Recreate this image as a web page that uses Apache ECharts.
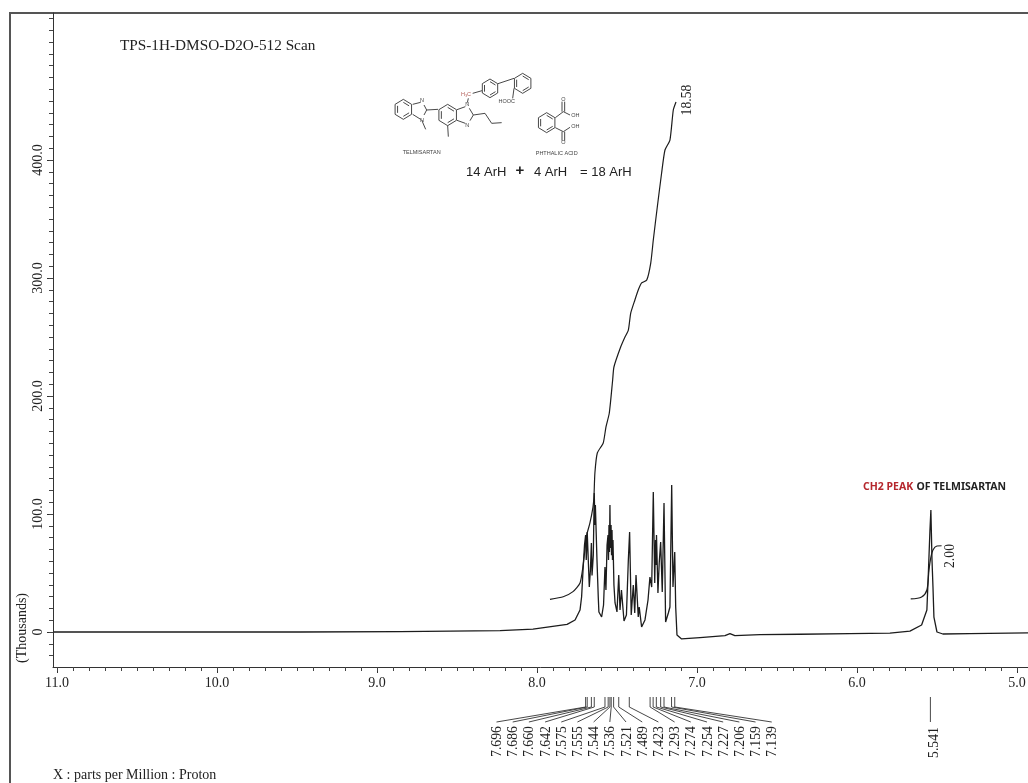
<!DOCTYPE html>
<html><head><meta charset="utf-8">
<style>html,body{margin:0;padding:0;background:#fff}#c{width:1028px;height:783px}</style>
<script src="https://cdn.jsdelivr.net/npm/echarts@6/dist/echarts.min.js"></script>
</head><body><div id="c"></div>
<script>
const spectrumPpm = [11.02,9.481,8.856,8.231,8.025,7.812,7.762,7.731,7.721,7.711,7.703,7.696,7.692,7.686,7.673,7.666,7.660,7.656,7.648,7.642,7.638,7.635,7.625,7.617,7.613,7.596,7.584,7.575,7.569,7.562,7.556,7.553,7.550,7.547,7.544,7.541,7.537,7.534,7.531,7.528,7.525,7.519,7.512,7.500,7.489,7.481,7.472,7.456,7.441,7.429,7.421,7.411,7.398,7.389,7.381,7.367,7.361,7.346,7.325,7.306,7.294,7.283,7.273,7.264,7.259,7.256,7.253,7.244,7.236,7.227,7.217,7.206,7.196,7.179,7.169,7.158,7.150,7.139,7.133,7.125,7.113,7.096,6.981,6.825,6.794,6.763,6.606,6.356,6.044,5.794,5.669,5.596,5.563,5.553,5.544,5.538,5.531,5.525,5.519,5.500,5.463,5.294,4.931];
const spectrumVal = [0,0,0.4,1.1,2.5,6.5,10.2,18.6,29.9,55.3,73.7,82.2,61,84.7,38.1,52.5,75.4,48,65,117.8,90.7,107.6,61,29.7,17,12.7,22.9,55,35.6,73.7,82.2,61,90.7,67.8,107.6,71.2,90.7,65,86.4,61,78,39.8,24.6,17,48.3,18.6,35.6,9.3,14.4,61,84.7,14.4,39.8,16.1,48.3,12.7,21.2,4.2,10.2,27.1,46.6,38.1,118.6,41.5,78,56.8,82.2,33,58.5,76.3,33.9,109.3,8.5,16.1,21.2,124.6,38.1,67.8,21.2,-2.5,-1.3,-5.9,-4.7,-3,-1.3,-3,-2.3,-1.9,-1.4,-1,0.8,5.9,18.6,52.5,85.6,103.4,61,38.4,12.7,0,-1.7,-1.3,-0.8];
const integralAPpm = [7.919,7.836,7.775,7.731,7.713,7.689,7.669,7.650,7.644,7.638,7.623,7.586,7.569,7.548,7.527,7.519,7.477,7.450,7.429,7.414,7.388,7.367,7.346,7.314,7.289,7.273,7.248,7.221,7.200,7.169,7.148,7.131];
const integralAVal = [27.7,29.9,34.2,41.5,55.1,82.2,92.4,105.9,114.4,134.7,151.7,160.2,173.7,185.6,213.6,224.6,241.5,250,255.9,270.3,281.4,289.8,295.8,298.3,312.7,332.2,360.2,389,408.5,416.9,442.4,449.2];
const integralBPpm = [5.664,5.596,5.563,5.550,5.539,5.525,5.500,5.471];
const integralBVal = [28,29.7,35.6,52.5,62.7,69.5,72.9,73.1];
const peakLabels = ["7.696","7.686","7.660","7.642","7.575","7.555","7.544","7.536","7.521","7.489","7.423","7.293","7.274","7.254","7.227","7.206","7.159","7.139"];
const xTickLabels = [11,10,9,8,7,6,5];
const yTickLabels = [0,100,200,300,400];
const lonePeak = "5.541";

const serif = '"Liberation Serif","Times New Roman",serif';
const sans = '"Liberation Sans",Arial,sans-serif';
const ink = '#222';
const xMinor = []; for (let i = 50; i <= 110; i++) xMinor.push(i / 10);
const yMinor = []; for (let i = -2; i <= 52; i++) yMinor.push(i * 10);

const chart = echarts.init(document.getElementById('c'), null, {renderer:'canvas'});

const z = (x, y) => [380 + x / 3, 70 + y / 3];
const ring = (cx, cy, r) => {
  const p = [];
  for (let i = 0; i <= 6; i++) {
    const a = Math.PI / 6 + i * Math.PI / 3;
    p.push([cx + r * Math.cos(a) * 0.95, cy + r * Math.sin(a)]);
  }
  return p;
};
const bondPaths = [
  ring(70,118,30), ring(203,135,32), ring(330,55,28), ring(428,40,30), ring(500,158,30),
  ring(70,118,21).slice(0,2), ring(70,118,21).slice(2,4), ring(70,118,21).slice(4,6),
  ring(203,135,23).slice(0,2), ring(203,135,23).slice(2,4), ring(203,135,23).slice(4,6),
  ring(330,55,20).slice(0,2), ring(330,55,20).slice(2,4), ring(330,55,20).slice(4,6),
  ring(428,40,22).slice(0,2), ring(428,40,22).slice(2,4), ring(428,40,22).slice(4,6),
  ring(500,158,22).slice(0,2), ring(500,158,22).slice(2,4), ring(500,158,22).slice(4,6),
  [[98,103],[122,97]], [[132,105],[140,120],[132,135]], [[122,148],[98,133]], [[125,150],[137,178]],
  [[140,120],[174,118]],
  [[231,119],[256,110]], [[268,115],[280,135],[270,152]], [[256,160],[231,151]],
  [[280,135],[315,130],[335,160],[365,158]], [[203,167],[205,200]],
  [[262,98],[265,85]], [[278,70],[306,62]], [[354,41],[402,25]], [[402,55],[398,85]],
  [[526,143],[550,125],[570,135]], [[546,125],[546,95]], [[554,125],[554,95]],
  [[526,173],[550,185],[570,172]], [[546,185],[546,212]], [[554,185],[554,212]]
];
const bondEls = bondPaths.map(p => ({
  type:'polyline', silent:true,
  shape:{points:p.map(q => z(q[0], q[1]))},
  style:{stroke:'#333', fill:null, lineWidth:0.9}
}));
const tiny = (t, x, y, size, color) => {
  const q = z(x, y);
  return {type:'text', silent:true, x:q[0], y:q[1],
    style:{text:t, font:size+'px '+sans, fill:color||'#444', align:'center', verticalAlign:'middle'}};
};
const txt = (t, x, y, size, font, align, rot, color) => ({
  type:'text', silent:true, x:x, y:y, rotation:rot||0,
  style:{text:t, font:size+'px '+font, fill:color||ink, align:align||'left', verticalAlign:'middle'}
});

const option = {
  animation:false,
  backgroundColor:'#fff',
  grid:{left:53, right:0, top:13, bottom:116, containLabel:false, outerBoundsMode:'none'},
  xAxis:[
    {type:'value', inverse:true, min:4.931, max:11.025, position:'bottom',
      splitLine:{show:false},
      axisLine:{show:true, onZero:false, lineStyle:{color:'#333', width:1}},
      axisTick:{show:true, length:6, lineStyle:{color:'#333'}, customValues:xTickLabels},
      axisLabel:{show:true, margin:9, fontFamily:serif, fontSize:14, color:ink,
        customValues:xTickLabels, formatter:v => v.toFixed(1)}},
    {type:'value', inverse:true, min:4.931, max:11.025, position:'bottom',
      splitLine:{show:false}, axisLine:{show:false, onZero:false},
      axisTick:{show:true, length:4, lineStyle:{color:'#444'}, customValues:xMinor},
      axisLabel:{show:false}}
  ],
  yAxis:[
    {type:'value', min:-29.66, max:524.6, position:'left',
      splitLine:{show:false},
      axisLine:{show:true, onZero:false, lineStyle:{color:'#333', width:1}},
      axisTick:{show:true, length:6, lineStyle:{color:'#333'}, customValues:yTickLabels},
      axisLabel:{show:true, rotate:90, margin:8, fontFamily:serif, fontSize:14, color:ink,
        customValues:yTickLabels, formatter:v => v === 0 ? '0' : v.toFixed(1)}},
    {type:'value', min:-29.66, max:524.6, position:'left',
      splitLine:{show:false}, axisLine:{show:false, onZero:false},
      axisTick:{show:true, length:4, lineStyle:{color:'#444'}, customValues:yMinor},
      axisLabel:{show:false}}
  ],
  series:[
    {type:'line', name:'spectrum', showSymbol:false, silent:true, smooth:false, sampling:null,
      lineStyle:{color:'#1c1c1c', width:1.3},
      data:spectrumPpm.map((x,i)=>[x, spectrumVal[i]])},
    {type:'line', name:'integral A', showSymbol:false, silent:true, smooth:0.2,
      lineStyle:{color:'#1c1c1c', width:1.2},
      data:integralAPpm.map((x,i)=>[x, integralAVal[i]])},
    {type:'line', name:'integral B', showSymbol:false, silent:true, smooth:0.3,
      lineStyle:{color:'#1c1c1c', width:1.2},
      data:integralBPpm.map((x,i)=>[x, integralBVal[i]])},
    {type:'custom', name:'peak list', silent:true, clip:false,
      data:peakLabels.map((t,i)=>[parseFloat(t), 0, i]),
      encode:{x:0, y:1},
      renderItem:(params, api) => {
        const px = api.coord([api.value(0), 0])[0];
        const i = api.value(2);
        const lx = 496.5 + 16.19 * i;
        const lineStyle = {stroke:'#333', lineWidth:0.9, fill:null};
        return {type:'group', children:[
          {type:'line', shape:{x1:px, y1:697, x2:px, y2:707}, style:lineStyle},
          {type:'line', shape:{x1:px, y1:707, x2:lx, y2:722}, style:lineStyle},
          {type:'text', x:lx + 1, y:741.5, rotation:Math.PI/2,
            style:{text:peakLabels[i], font:'13.7px '+serif, fill:ink, align:'center', verticalAlign:'middle'}}
        ]};
      }},
    {type:'custom', name:'lone peak', silent:true, clip:false,
      data:[[parseFloat(lonePeak), 0]],
      encode:{x:0, y:1},
      renderItem:(params, api) => {
        const px = api.coord([api.value(0), 0])[0];
        return {type:'group', children:[
          {type:'line', shape:{x1:px, y1:697, x2:px, y2:722}, style:{stroke:'#333', lineWidth:0.9}},
          {type:'text', x:px + 3.5, y:742.5, rotation:Math.PI/2,
            style:{text:lonePeak, font:'13.7px '+serif, fill:ink, align:'center', verticalAlign:'middle'}}
        ]};
      }}
  ],
  graphic:{elements:[
    {type:'polyline', silent:true, shape:{points:[[10,783],[10,13],[1028,13]]},
      style:{stroke:'#555', lineWidth:2, fill:null}},
    txt('TPS-1H-DMSO-D2O-512 Scan', 120, 46, 15.25, serif),
    txt('X : parts per Million : Proton', 53, 775, 14, serif),
    txt('(Thousands)', 22, 628, 14, serif, 'center', Math.PI/2),
    txt('18.58', 687, 100, 13.7, serif, 'center', Math.PI/2),
    txt('2.00', 950, 556, 13.7, serif, 'center', Math.PI/2),
    {type:'text', silent:true, x:863, y:487,
      style:{rich:{r:{fill:'#b5272d', font:'bold 10.5px "Noto Sans",sans-serif'},
                   k:{fill:'#222', font:'bold 10.5px "Noto Sans",sans-serif'}},
             text:'{r|CH2 PEAK} {k|OF TELMISARTAN}', verticalAlign:'middle'}},
    txt('14 ArH', 466, 172, 13, sans),
    {type:'text', silent:true, x:520, y:171,
      style:{text:'+', font:'bold 15px '+sans, fill:ink, align:'center', verticalAlign:'middle'}},
    txt('4 ArH', 534, 172, 13, sans),
    txt('= 18 ArH', 580, 172, 13, sans),
    tiny('TELMISARTAN', 125, 248, 5.5),
    tiny('PHTHALIC ACID', 530, 250, 5.5),
    tiny('H\u2083C', 258, 72, 5.5, '#b5605a'),
    tiny('HOOC', 380, 95, 5.5),
    tiny('N', 126, 92, 5.5), tiny('N', 126, 150, 5.5),
    tiny('N', 262, 103, 5.5), tiny('N', 262, 165, 5.5),
    tiny('OH', 586, 135, 5.5), tiny('OH', 586, 170, 5.5),
    tiny('O', 550, 88, 5.5), tiny('O', 550, 218, 5.5)
  ].concat(bondEls)}
};
chart.setOption(option);
</script></body></html>
